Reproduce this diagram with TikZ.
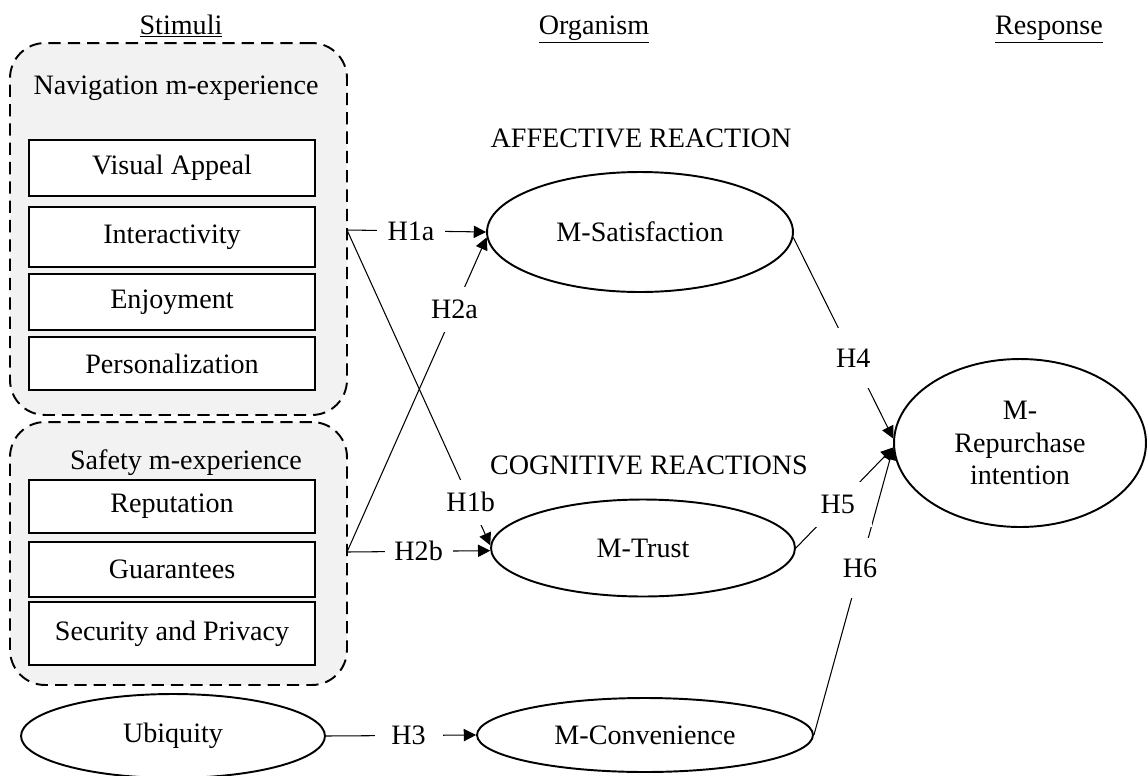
\documentclass[tikz,border=0pt]{standalone}
\usepackage{fontspec}
\setmainfont{Liberation Serif}
\usetikzlibrary{shapes.geometric,arrows.meta}
\begin{document}
\begin{tikzpicture}[x=0.02cm,y=-0.02cm,
  font=\fontsize{16pt}{18pt}\selectfont,
  grp/.style={draw, dash pattern=on 7pt off 4pt, line width=1.1pt, fill=black!5, rounded corners=0.7cm, inner sep=0},
  itembox/.style={draw, line width=1.1pt, fill=white, minimum width=5.72cm, inner sep=0},
  oval/.style={draw, ellipse, line width=1.1pt, fill=white, inner sep=0},
  lab/.style={fill=white, inner sep=0, minimum width=1.36cm, minimum height=0.9cm},
  head/.style={anchor=base},
  arr/.style={line width=0.6pt, -{Triangle[length=7pt,width=7pt]}}]
\useasboundingbox (0,0) rectangle (1147,775);
% headings
\node[head] (hs) at (181,34) {\underline{Stimuli}};
\node[head] (ho) at (594,34) {\underline{Organism}};
\node[head] (hr) at (1049,34) {\underline{Response}};
% groups
\node[grp, minimum width=6.74cm, minimum height=7.44cm] (nav) at (178.5,229) {};
\node[grp, minimum width=6.74cm, minimum height=5.26cm] (saf) at (178.5,553.5) {};
\node (navt) at (176,88) {Navigation m-experience};
\node[itembox, minimum height=1.12cm] (va) at (172,168) {Visual Appeal};
\node[itembox, minimum height=1.2cm] (int) at (172,237) {Interactivity};
\node[itembox, minimum height=1.12cm] (enj) at (172,302) {Enjoyment};
\node[itembox, minimum height=1.06cm] (per) at (172,363.5) {Personalization};
\node (saft) at (186,463) {Safety m-experience};
\node[itembox, minimum height=1.06cm] (rpt) at (172,506.5) {Reputation};
\node[itembox, minimum height=1.1cm] (gua) at (172,569.5) {Guarantees};
\node[itembox, minimum height=1.26cm] (sec) at (172,633.5) {Security and Privacy};
% ellipses
\node[oval, minimum width=6.08cm, minimum height=1.68cm] (ubi) at (173,736) {Ubiquity};
\node[oval, minimum width=6.12cm, minimum height=2.4cm] (sat) at (640,232) {M-Satisfaction};
\node[oval, minimum width=6.08cm, minimum height=1.94cm] (tru) at (643,548) {M-Trust};
\node[oval, minimum width=6.72cm, minimum height=1.48cm] (con) at (645,735) {M-Convenience};
\node[oval, minimum width=5.04cm, minimum height=3.36cm, align=center, font=\fontsize{16pt}{18.5pt}\selectfont] (rep) at (1020,443) {M-\\Repurchase\\intention};
% section titles
\node (aff) at (641,138) {AFFECTIVE REACTION};
\node (cog) at (649,465) {COGNITIVE REACTIONS};
% junctions
\coordinate (navout) at (347,230);
\coordinate (safout) at (347,552);
% connectors
\draw[arr] (navout) -- (sat.west) node[lab, pos=0.46] {H1a};
\draw[arr] (navout) -- (tru.179) node[lab, pos=0.863] {H1b};
\draw[arr] (safout) -- (sat.182) node[lab, pos=0.77] {H2a};
\draw[arr] (safout) -- (tru.181) node[lab, pos=0.5] {H2b};
\draw[arr] (ubi.east) -- (con.west) node[lab, pos=0.55] {H3};
\draw[arr] (sat.-2) -- (rep.178) node[lab, pos=0.6, minimum height=1.2cm] {H4};
\draw[arr] (con.east) -- (rep.182.5) node[lab, pos=0.58, minimum height=1.2cm] {H6};
\draw[arr] (tru.east) -- (rep.182) node[lab, pos=0.43] {H5};
\end{tikzpicture}
\end{document}
